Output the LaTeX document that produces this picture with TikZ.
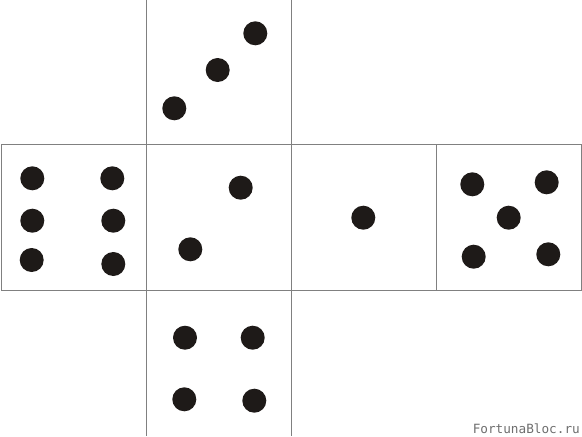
\documentclass[tikz,border=0pt]{standalone}
\usepackage{fontspec}
\newfontfamily\markfont{DejaVu Sans Mono}
\usetikzlibrary{positioning}
\definecolor{faceline}{HTML}{808080}
\definecolor{pipfill}{HTML}{1E1A18}
\definecolor{marktext}{HTML}{6E6E6E}
\tikzset{
  face/.style={draw=faceline, line width=0.9pt, minimum width=145pt,
               minimum height=146pt, inner sep=0pt, outer sep=0pt},
  pip/.style={fill=pipfill},
  watermark/.style={font=\markfont\fontsize{12.7}{14}\selectfont, text=marktext,
                    inner sep=0pt},
}

\begin{document}
\begin{tikzpicture}[x=1pt, y=-1pt]
\useasboundingbox (0,0) rectangle (582,437);
\clip (0,0) rectangle (582,435.4);

% ---- the net: middle row of four faces, one above, one below --------------
\node[face] (two) at (218.5,217.5) {};
\node[face, left=0pt of two] (six) {};
\node[face, right=0pt of two] (one) {};
\node[face, right=0pt of one] (five) {};
\node[face, above=0pt of two] (three) {};
\node[face, below=0pt of two] (four) {};

% ---- pips -------------------------------------------------------------------
\foreach \x/\y in {255.3/33.3, 217.7/70, 174.3/108.3}   % three
  {\fill[pip] (\x,\y) circle (12);}
\foreach \x/\y in {32.3/178.3, 112.3/178.3, 32.3/220.7,
                   113.3/220.7, 31.7/260, 113.3/264}     % six
  {\fill[pip] (\x,\y) circle (12);}
\foreach \x/\y in {240.7/187.7, 190.3/249.3}             % two
  {\fill[pip] (\x,\y) circle (12);}
\fill[pip] (363.3,217.7) circle (12);                    % one
\foreach \x/\y in {472.3/184.3, 546.7/182.3, 508.7/217.7,
                   473.7/256.7, 548.3/254.3}             % five
  {\fill[pip] (\x,\y) circle (12);}
\foreach \x/\y in {185/337.7, 252.7/337.7, 184.3/399.3, 254.3/400.7} % four
  {\fill[pip] (\x,\y) circle (12);}

% ---- site mark, bottom right --------------------------------------------------
\node[watermark, anchor=base east] (site) at (580,433) {FortunaBloc.ru};
\end{tikzpicture}
\end{document}
